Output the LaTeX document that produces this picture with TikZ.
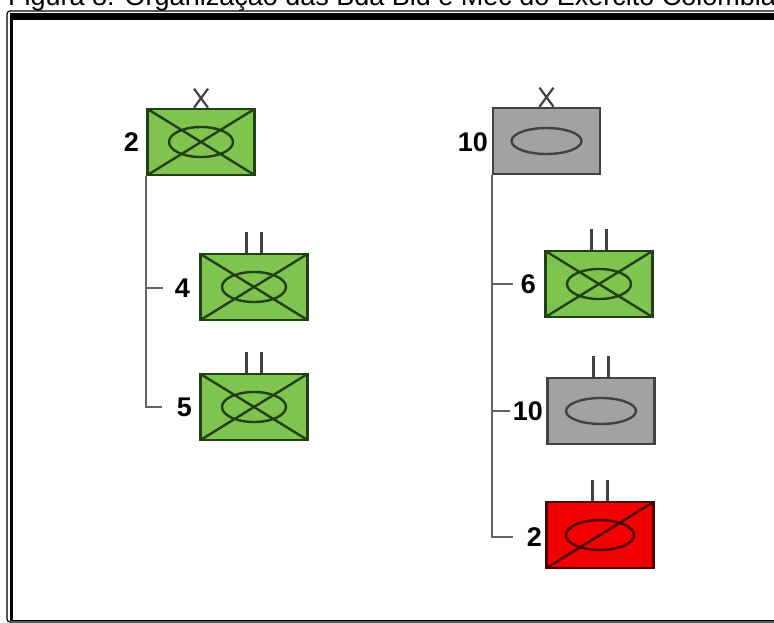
\documentclass[tikz,border=0pt]{standalone}
\usepackage{fontspec}
\setmainfont{Liberation Sans}
\definecolor{mgreen}{RGB}{126,196,78}
\definecolor{dgreen}{RGB}{34,64,22}
\definecolor{mgray}{RGB}{162,162,162}
\definecolor{dgray}{RGB}{66,66,66}
\definecolor{mred}{RGB}{240,0,0}
\definecolor{dred}{RGB}{80,0,0}
\definecolor{cgray}{RGB}{100,100,100}
\tikzset{
  unitbox/.style={rectangle, minimum width=107pt, minimum height=66pt, line width=2.6pt, inner sep=0pt},
  greenunit/.style={unitbox, draw=dgreen, fill=mgreen,
    path picture={\draw[line width=2.4pt, dgreen]
      (path picture bounding box.south west) -- (path picture bounding box.north east)
      (path picture bounding box.north west) -- (path picture bounding box.south east)
      (path picture bounding box.center) ellipse [x radius=32pt, y radius=15pt];}},
  grayunit/.style={unitbox, draw=dgray, fill=mgray,
    path picture={\draw[line width=2.4pt, dgray]
      (path picture bounding box.center) ellipse [x radius=35pt, y radius=13pt];}},
  redunit/.style={unitbox, draw=dred, fill=mred,
    path picture={\draw[line width=2.4pt, dred]
      (path picture bounding box.south west) -- (path picture bounding box.north east)
      (path picture bounding box.center) ellipse [x radius=34pt, y radius=15pt];}},
  lbl/.style={anchor=east, inner sep=0pt, font=\fontsize{27}{30}\selectfont\bfseries},
  conn/.style={draw=cgray, line width=2.4pt},
  echmark/.style={draw=dgray, line width=2.2pt}
}
\begin{document}
\begin{tikzpicture}[x=1pt,y=-1pt]
\useasboundingbox (0,0) rectangle (774,623);
\clip (0,0) rectangle (774,623);
% title (cut at the top, as in the reference)
\node[anchor=base west, inner sep=0pt, font=\fontsize{27}{30}\selectfont] (title) at (8,6)
  {Figura 8: Organização das Bda Bld e Mec do Exército Colombiano};
% frame
\draw[line width=1.2pt, rounded corners=3pt] (7,11) rectangle (800,622);
\fill[black] (10,13) rectangle (800,20);
\fill[black] (10,13) rectangle (13,621);
\draw[line width=1pt] (10,620) -- (800,620);

% left brigade
\node[greenunit] (b1) at (201,142) {};
\node[lbl] (l1) at (139,142) {2};
\node[greenunit] (u4) at (254,287) {};
\node[lbl] (l4) at (190,288) {4};
\node[greenunit] (u5) at (254,407) {};
\node[lbl] (l5) at (192,407) {5};

% right brigade
\node[grayunit] (b2) at (546.5,141) {};
\node[lbl] (l2) at (488,142) {10};
\node[greenunit] (u6) at (599,284) {};
\node[lbl] (l6) at (536,284) {6};
\node[grayunit] (u10) at (601,411) {};
\node[lbl] (l10) at (543,411) {10};
\node[redunit] (u2) at (600,535) {};
\node[lbl] (l2b) at (542,537) {2};

% echelon marks: brigade X
\foreach \n in {b1,b2}{
  \draw[echmark] ([xshift=-7pt]\n.north) -- ([xshift=7pt,yshift=19pt]\n.north)
              ([xshift=7pt]\n.north) -- ([xshift=-7pt,yshift=19pt]\n.north);
}
% battalion II
\foreach \n in {u4,u5,u6,u10,u2}{
  \draw[echmark] ([xshift=-7.5pt]\n.north) -- ([xshift=-7.5pt,yshift=21pt]\n.north)
              ([xshift=7.5pt]\n.north) -- ([xshift=7.5pt,yshift=21pt]\n.north);
}

% connectors
\draw[conn] (b1.south west) |- ([xshift=-15pt]l5.west);
\draw[conn] (b1.south west |- l4.west) -- ([xshift=-12pt]l4.west);
\draw[conn] (b2.south west) |- ([xshift=-14pt]l2b.west);
\draw[conn] (b2.south west |- l6.west) -- ([xshift=-8pt]l6.west);
\draw[conn] (b2.south west |- l10.west) -- ([xshift=-3pt]l10.west);
\end{tikzpicture}
\end{document}
